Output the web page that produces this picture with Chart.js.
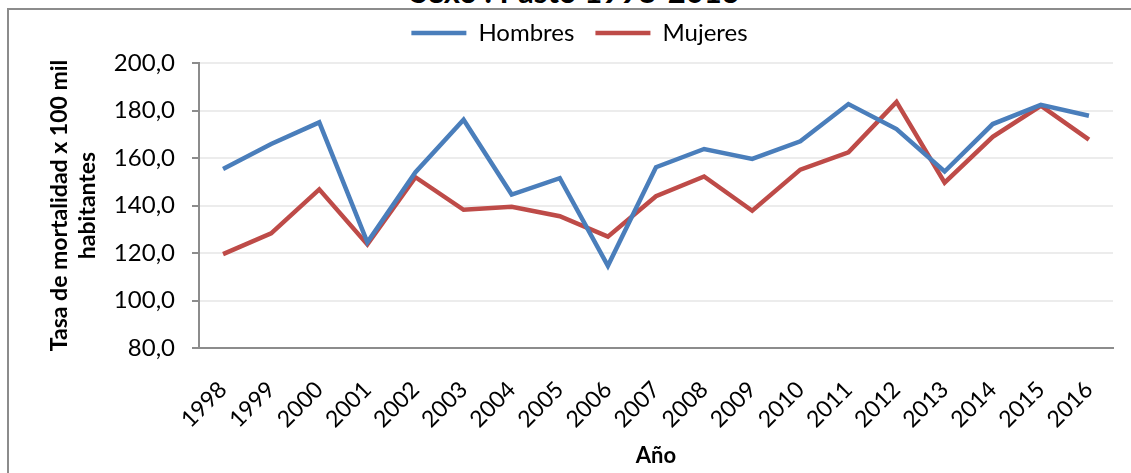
<!DOCTYPE html>
<html>
<head>
<meta charset="utf-8">
<script src="https://cdn.jsdelivr.net/npm/chart.js"></script>
<style>
  body { margin: 0; background: #fff; overflow: hidden; }
  #wrap { position: absolute; left: 0; top: 0; width: 1131px; height: 473px; }
  #frame { position: absolute; left: 7px; top: 8px; width: 1130px; height: 470px;
           border-left: 2px solid #8c8c8c; border-top: 2px solid #8c8c8c; }
  #titulo { position: absolute; left: 0; width: 1150px; top: -24px; text-align: center;
            font: bold 31px Lato, sans-serif; line-height: 31px; color: #000; }
  canvas { position: absolute; left: 0; top: 0; }
</style>
</head>
<body>
<div id="wrap">
  <div id="frame"></div>
  <div id="titulo">Sexo . Pasto 1998-2016</div>
  <canvas id="myChart" width="1131" height="473"></canvas>
</div>
<script>
  let anios = ['1998','1999','2000','2001','2002','2003','2004','2005','2006','2007',
               '2008','2009','2010','2011','2012','2013','2014','2015','2016']
  let hombres = [155.4, 165.9, 175.0, 124.5, 154.0, 176.1, 144.6, 151.5, 114.6, 156.1,
                 163.8, 159.6, 167.0, 182.7, 172.2, 154.3, 174.3, 182.4, 177.8]
  let mujeres = [119.5, 128.3, 146.8, 123.6, 151.9, 138.2, 139.5, 135.5, 126.9, 143.9,
                 152.2, 137.8, 155.1, 162.4, 183.6, 149.6, 168.9, 182.0, 167.7]

  const ctx = document.getElementById('myChart');

  // little extra room under the legend
  const legendGap = {
    id: 'legendGap',
    afterInit(chart) {
      const fit = chart.legend.fit;
      chart.legend.fit = function () {
        fit.call(this);
        this.height += 8;
      };
    }
  };

  new Chart(ctx, {
    type: 'line',
    data: {
      labels: anios,
      datasets: [{
        label: 'Hombres',
        data: hombres,
        borderColor: '#4a7ebb',
        backgroundColor: '#4a7ebb',
        borderWidth: 4.5,
        pointRadius: 0,
        tension: 0
      }, {
        label: 'Mujeres',
        data: mujeres,
        borderColor: '#be4b48',
        backgroundColor: '#be4b48',
        borderWidth: 4.5,
        pointRadius: 0,
        tension: 0
      }]
    },
    options: {
      responsive: false,
      animation: false,
      layout: { padding: { left: 46, right: 18, top: 0, bottom: 4 } },
      plugins: {
        legend: {
          labels: {
            usePointStyle: true,
            pointStyle: 'line',
            pointStyleWidth: 55,
            boxHeight: 4,
            padding: 21,
            color: '#000',
            font: { family: 'Lato', size: 24 }
          }
        },
        tooltip: { enabled: false }
      },
      scales: {
        x: {
          offset: true,
          afterFit: (s) => { s.height = 473 - 4 - 348 },
          grid: { display: false },
          border: { display: true, color: '#8c8c8c', width: 2 },
          ticks: {
            color: '#000',
            maxRotation: 45,
            minRotation: 45,
            padding: 20,
            font: { family: 'Lato', size: 23 }
          },
          title: {
            display: true,
            text: 'Año',
            color: '#000',
            font: { family: 'Lato', size: 22, weight: 'bold' },
            padding: { top: 14, bottom: 0 }
          }
        },
        y: {
          min: 80,
          max: 200,
          afterFit: (s) => { s.width = 199 - 46 },
          grid: { color: '#ececec', lineWidth: 2, tickColor: '#8c8c8c', tickLength: 7 },
          border: { color: '#8c8c8c', width: 2 },
          ticks: {
            stepSize: 20,
            color: '#000',
            padding: 17,
            font: { family: 'Lato', size: 24 },
            callback: (v) => v.toFixed(1).replace('.', ',')
          },
          title: {
            display: true,
            text: ['Tasa de mortalidad x 100 mil', 'habitantes'],
            color: '#000',
            font: { family: 'Lato', size: 23, weight: 'bold' },
            padding: 0
          }
        }
      }
    },
    plugins: [legendGap]
  });
</script>
</body>
</html>
